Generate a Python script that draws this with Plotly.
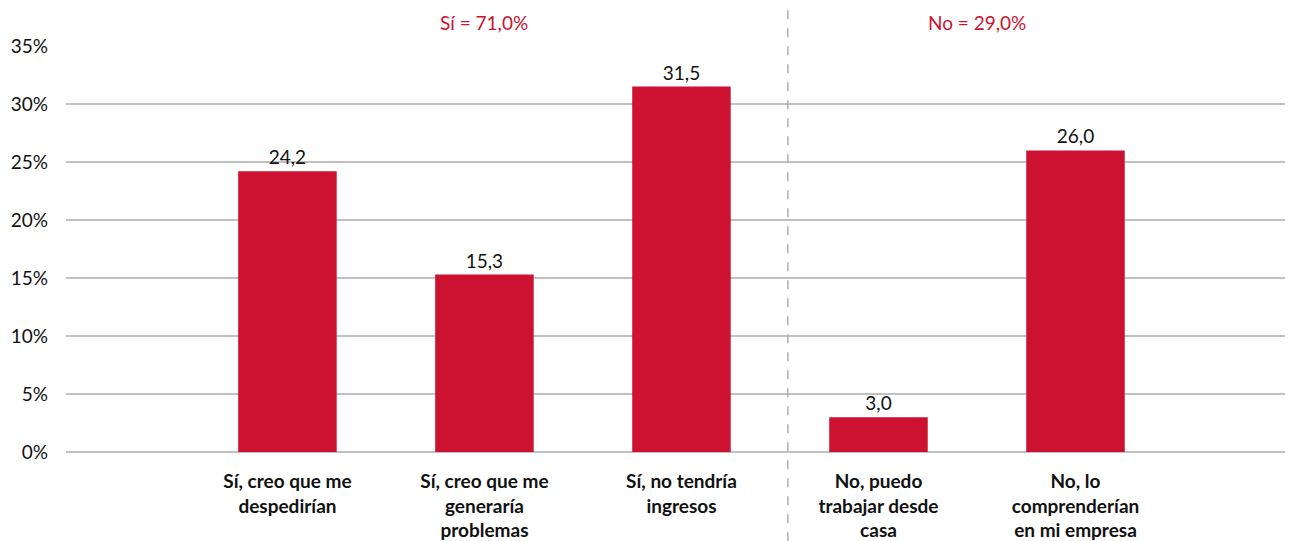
import plotly.graph_objects as go

categories = [
    "Sí, creo que me<br>despedirían",
    "Sí, creo que me<br>generaría<br>problemas",
    "Sí, no tendría<br>ingresos",
    "No, puedo<br>trabajar desde<br>casa",
    "No, lo<br>comprenderían<br>en mi empresa",
]
values = [24.2, 15.3, 31.5, 3.0, 26.0]
value_labels = ["24,2", "15,3", "31,5", "3,0", "26,0"]
group_labels = ["Sí = 71,0%", "No = 29,0%"]
y_ticks = [0, 5, 10, 15, 20, 25, 30, 35]
y_tick_labels = ["0%", "5%", "10%", "15%", "20%", "25%", "30%", "35%"]

RED = "#CC1230"
FONT = "Lato"

fig = go.Figure()
fig.add_trace(go.Bar(
    x=list(range(len(categories))),
    y=values,
    text=value_labels,
    textposition="outside",
    textfont=dict(family=FONT, size=19, color="#111111"),
    marker=dict(color=RED, line=dict(width=0)),
    width=0.5,
    cliponaxis=False,
    hoverinfo="skip",
))

# vertical dashed separator between groups
fig.add_shape(type="line", xref="x", yref="paper",
              x0=2.54, x1=2.54, y0=-0.22, y1=1.089,
              line=dict(color="#b0b0b0", width=1.5, dash="dash"))

fig.add_annotation(x=1, y=1.059, xref="x", yref="paper", text=group_labels[0],
                   showarrow=False, yanchor="middle",
                   font=dict(family=FONT, size=19, color=RED))
fig.add_annotation(x=3.5, y=1.059, xref="x", yref="paper", text=group_labels[1],
                   showarrow=False, yanchor="middle",
                   font=dict(family=FONT, size=19, color=RED))

fig.update_layout(
    width=1285, height=533,
    margin=dict(l=58, r=0, t=38, b=89, autoexpand=False),
    plot_bgcolor="white", paper_bgcolor="white",
    showlegend=False,
    font=dict(family=FONT, size=19, color="#111111"),
)
fig.update_xaxes(
    range=[-1.124, 5.104],
    tickvals=list(range(len(categories))),
    ticktext=categories,
    tickfont=dict(family=FONT, size=19, color="#111111", weight="bold"),
    showgrid=False, zeroline=False, showline=False, ticks="",
    ticklabelstandoff=16, automargin=False,
    fixedrange=True,
)
fig.update_yaxes(
    range=[0, 35],
    tickvals=y_ticks,
    ticktext=y_tick_labels,
    tickfont=dict(family=FONT, size=19, color="#111111"),
    showgrid=True, gridcolor="#c0c0c0", gridwidth=1.5,
    zeroline=True, zerolinecolor="#c0c0c0", zerolinewidth=1.5,
    showline=False, ticks="", ticklabelstandoff=17, automargin=False,
    fixedrange=True,
)

fig.write_html("out.html")
